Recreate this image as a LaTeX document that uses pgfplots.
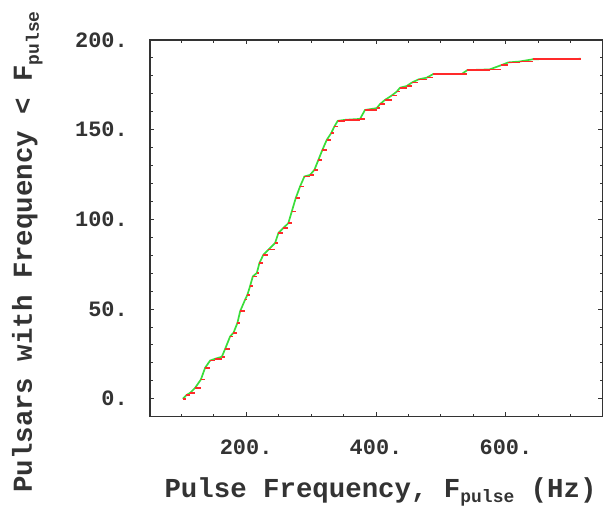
\documentclass[border=0pt]{standalone}
\usepackage{fontspec}
\setmainfont{Liberation Mono}
\usepackage{pgfplots}
\pgfplotsset{compat=1.18}
\usetikzlibrary{calc}
\definecolor{axc}{HTML}{333333}
\definecolor{cred}{HTML}{FF2A2A}
\definecolor{cgreen}{HTML}{3ADD3A}
\pgfplotstableread{
x y
102.5 0
108 2
113.8 3.3
121.5 6.1
130.3 10.7
136.9 17.3
144.6 21.3
152.3 22.3
162.6 23.4
167.7 27.8
175.4 34.8
180.5 36.7
186.6 42.3
190.8 48.8
198.5 55.3
202 58
206 62.7
210.3 68.2
216.5 70.1
220.5 75.7
226.6 80.3
234.3 83.1
244.6 86.8
249.7 92.4
257.4 95.2
265 97.9
270.3 104.4
276.4 111.9
283 118.3
289.7 123.9
298.5 124.8
305.1 127.6
311.3 133.2
317.4 138.7
324.1 144.3
330.8 148
335.8 151.7
341 154.9
352.3 155.5
375.4 156
383 161
401 162
406 164.2
413.8 166.6
424 169
431.8 171.2
437 173.4
447 174.3
455 176.2
465 178
478 179
488 181
531.8 181
540.5 183.2
575 183.6
593 186
603.6 187.5
621 188
642 189.3
715 189.5
}\pulsars
\begin{document}
\begin{tikzpicture}
\begin{axis}[
  scale only axis, width=452.7bp, height=376.7bp,
  xmin=52, xmax=749, ymin=-10, ymax=200,
  axis line style={axc, line width=1.3bp},
  every tick/.style={axc, line width=1bp},
  major tick length=4.5bp, minor tick length=3bp,
  tick align=inside,
  xtick={200,400,600}, xticklabels={200.,400.,600.},
  ytick={0,50,100,150,200}, yticklabels={0.,50.,100.,150.,200.},
  minor xtick={100,150,...,700},
  minor ytick={10,20,...,190},
  tick label style={font=\fontsize{22}{22}\selectfont\bfseries, text=axc, inner sep=0pt},
  xticklabel style={anchor=north, yshift=-23bp},
  yticklabel style={anchor=east, xshift=-22bp},
  xlabel={\fontsize{27.5}{27.5}\selectfont\bfseries Pulse Frequency, F\raisebox{-5bp}{\fontsize{18}{18}\selectfont pulse} (Hz)},
  ylabel={\fontsize{27.5}{27.5}\selectfont\bfseries Pulsars with Frequency < F\raisebox{-7bp}{\fontsize{18}{18}\selectfont pulse}},
  xlabel style={at={(axis description cs:0.5092,-0.2132)}, anchor=base, text=axc},
  ylabel style={at={(axis description cs:-0.2607,0.4372)}, anchor=base, text=axc},
]
\addplot[cgreen, line width=1.7bp, mark=none] table[x=x,y=y] {\pulsars};
\addplot[cred, line width=1.6bp, jump mark left, mark=none] table[x=x,y=y] {\pulsars};
\coordinate (sw) at (rel axis cs:0,0);
\coordinate (ne) at (rel axis cs:1,1);
\end{axis}
\pgfresetboundingbox
\useasboundingbox ($(sw)+(-150bp,-89.3bp)$) rectangle ($(ne)+(5.3bp,40bp)$);
\end{tikzpicture}
\end{document}
